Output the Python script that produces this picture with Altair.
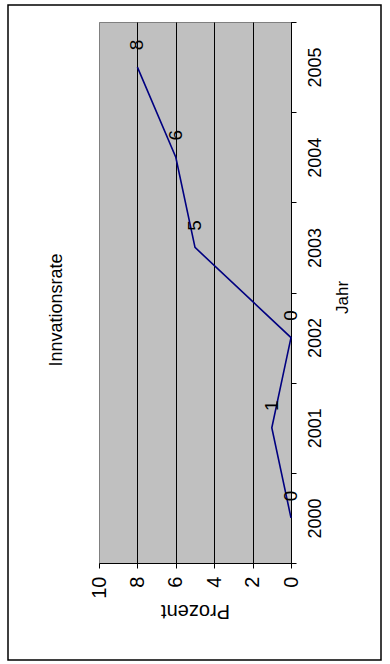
import altair as alt
import pandas as pd

years = [2000, 2001, 2002, 2003, 2004, 2005]
values = [0, 1, 0, 5, 6, 8]
x_ticks = [0, 2, 4, 6, 8, 10]
chart_title = "Innvationsrate"

df = pd.DataFrame({"Jahr": years, "Prozent": values})
FONT = "Liberation Sans"

x_enc = alt.X(
    "Prozent:Q",
    scale=alt.Scale(domain=[0, 10], reverse=True, nice=False),
    axis=alt.Axis(
        values=x_ticks, labelAngle=270, grid=True,
        gridColor={"condition": {"test": "datum.value == 10", "value": "#808080"}, "value": "black"},
        gridWidth=1, gridOpacity=1, domainColor="black", tickColor="black", tickSize=5,
        labelFont=FONT, labelFontSize=20, labelColor="black", labelPadding=8,
        title="Prozent", titleAngle=180, titleFont=FONT, titleFontSize=20,
        titleFontWeight="normal", titleColor="black",
        titleX=96, titleY=47, titleAlign="center", titleBaseline="middle",
    ),
)
y_enc = alt.Y(
    "Jahr:O",
    sort="descending",
    scale=alt.Scale(type="band", paddingInner=0, paddingOuter=0),
    bandPosition=0.5,
    axis=alt.Axis(
        orient="right", labelAngle=270, tickBand="extent", grid=False,
        domainColor="black", tickColor="black", tickSize=5,
        labelFont=FONT, labelFontSize=18, labelColor="black", labelPadding=10,
        title="Jahr", titleAngle=270, titleFont=FONT, titleFontSize=17,
        titleFontWeight="normal", titleColor="black",
        titleX=51, titleY=275, titleAlign="center", titleBaseline="middle",
    ),
)

base = alt.Chart(df)
line = base.mark_line(color="#000080", strokeWidth=1.6).encode(x=x_enc, y=y_enc)
labels = base.mark_text(
    angle=270, dx=22, font=FONT, fontSize=19, align="center", baseline="middle", color="black"
).encode(x=x_enc, y=y_enc, text="Prozent:Q")

one = pd.DataFrame({"a": [0]})
border = alt.Chart(one).mark_rect(
    fill=None, stroke="black", strokeWidth=1.5, clip=False
).encode(
    x=alt.value(8 - 99), x2=alt.value(381 - 99),
    y=alt.value(5 - 22), y2=alt.value(660 - 22),
)
title = alt.Chart(one).mark_text(
    angle=270, font=FONT, fontSize=18, align="center", baseline="middle", color="black", clip=False
).encode(
    x=alt.value(57 - 99), y=alt.value(310 - 22), text=alt.value(chart_title)
)

chart = alt.layer(line, labels, border, title).properties(
    width=192, height=541,
    padding={"left": 99, "top": 22, "right": 99, "bottom": 101},
    autosize=alt.AutoSizeParams(type="none"),
    background="white",
).configure_view(fill="#C0C0C0", stroke="#808080", strokeWidth=1)

chart.save("out.html", embed_options={"renderer": "svg", "actions": False})
